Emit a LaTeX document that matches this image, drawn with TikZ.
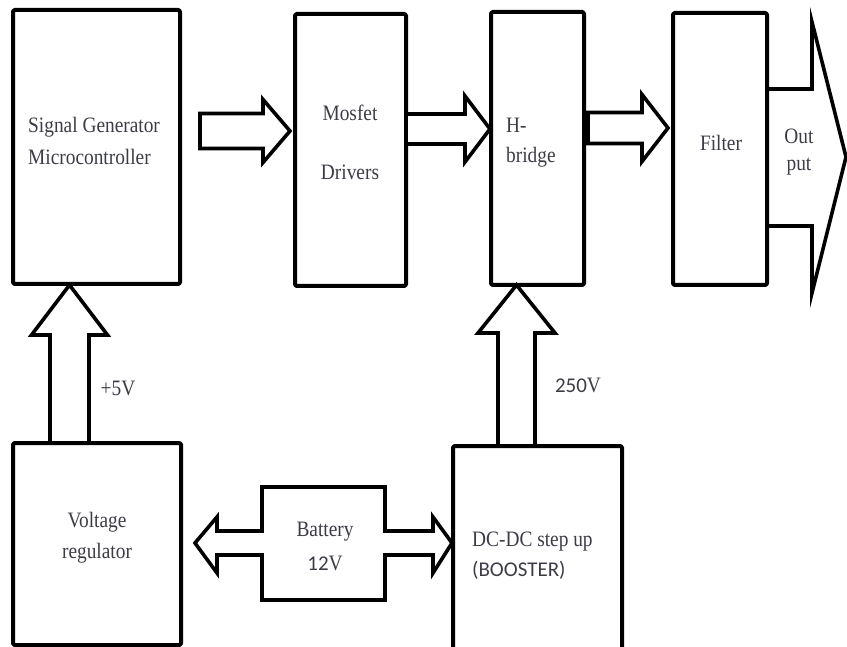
\documentclass[tikz,border=0pt]{standalone}
\usepackage{fontspec}
\setmainfont{Liberation Serif}
\newfontfamily\carl{Carlito}
\usetikzlibrary{calc}
\definecolor{txt}{RGB}{60,60,70}
\newcommand{\cn}[1]{\scalebox{0.88}[1]{#1}}
\tikzset{
  box/.style={draw=black, line width=4pt, line join=round, rounded corners=1.5pt},
  blk/.style={draw=black, line width=3.6pt, line join=miter, fill=white},
  lbl/.style={text=txt, font=\fontsize{22}{26}\selectfont, inner sep=0pt},
}
\begin{document}
\begin{tikzpicture}[x=1pt,y=-1pt]
\useasboundingbox (0,0) rectangle (847,647);
% boxes
\draw[box] (13,10) rectangle (180,284);
\coordinate (sg) at (96.5,147);
\draw[box] (295,14) rectangle (406,286);
\coordinate (mos) at (350.5,150);
\draw[box] (491,12) rectangle (584,285);
\coordinate (hb) at (537.5,148);
\draw[box] (673,13) rectangle (767,285);
\coordinate (flt) at (720,149);
\draw[box] (13,443) rectangle (181,645);
\coordinate (vr) at (97,544);
\draw[box] (453,446) rectangle (622,652);
\coordinate (dc) at (537.5,549);

% block arrows
\newcommand{\RArrow}[6]{%
 \draw[blk] (#1,#3-#4) -- (#2-#6,#3-#4) -- (#2-#6,#3-#5) -- (#2,#3) -- (#2-#6,#3+#5) -- (#2-#6,#3+#4) -- (#1,#3+#4) -- cycle;}
\newcommand{\UArrow}[6]{% x center, bottom y, tip y, half shaft, half head, head length
 \draw[blk] (#1-#4,#2) -- (#1-#4,#3+#6) -- (#1-#5,#3+#6) -- (#1,#3) -- (#1+#5,#3+#6) -- (#1+#4,#3+#6) -- (#1+#4,#2) -- cycle;}

\RArrow{200}{290}{131}{17.5}{31.5}{27}
\RArrow{406}{490}{129}{15}{33}{25}
\RArrow{588}{668}{128}{15.5}{33.5}{26}
\UArrow{69.5}{443}{285}{19.5}{38}{50}
\UArrow{516.5}{446}{285}{18.5}{38.5}{48}

% output arrow
\draw[blk, fill=none] (767,89) -- (812,89) -- (812,22) -- (846,157) -- (812,293) -- (812,226) -- (767,226);

% battery double arrow
\draw[blk] (195,543) -- (217,517) -- (217,531) -- (262,531) -- (262,487) -- (385,487) -- (385,531)
  -- (433,531) -- (433,517) -- (452,543) -- (433,573) -- (433,555) -- (385,555) -- (385,600)
  -- (262,600) -- (262,555) -- (217,555) -- (217,573) -- cycle;

% labels
\node[lbl, anchor=base west] (t1) at (28,133) {\cn{Signal Generator}};
\node[lbl, anchor=base west] (t2) at (28,165) {\cn{Microcontroller}};
\node[lbl] (t3) at (350,113) {\cn{Mosfet}};
\node[lbl] (t4) at (350,172) {\cn{Drivers}};
\node[lbl, anchor=west] (t5) at (506,125) {\cn{H-}};
\node[lbl, anchor=west] (t6) at (506,157) {\cn{bridge}};
\node[lbl] (t7) at (721,143) {\cn{Filter}};
\node[lbl] (t8) at (799,136) {\cn{Out}};
\node[lbl] (t9) at (799,167) {\cn{put}};
\node[lbl] (t10) at (118,388) {\cn{+5V}};
\node[lbl] (t11) at (578,385) {{\fontsize{21}{24}\carl 250}\cn{V}};
\node[lbl] (t12) at (97,522) {\cn{Voltage}};
\node[lbl] (t13) at (97,553) {\cn{regulator}};
\node[lbl] (t14) at (325,532) {\cn{Battery}};
\node[lbl] (t15) at (325,563) {{\fontsize{21}{24}\carl 12}\cn{V}};
\node[lbl, anchor=west] (t16) at (472,542) {\cn{DC-DC step up}};
\node[lbl, anchor=west] (t17) at (472,570) {\fontsize{21}{24}\carl (BOOSTER)};
\end{tikzpicture}
\end{document}
